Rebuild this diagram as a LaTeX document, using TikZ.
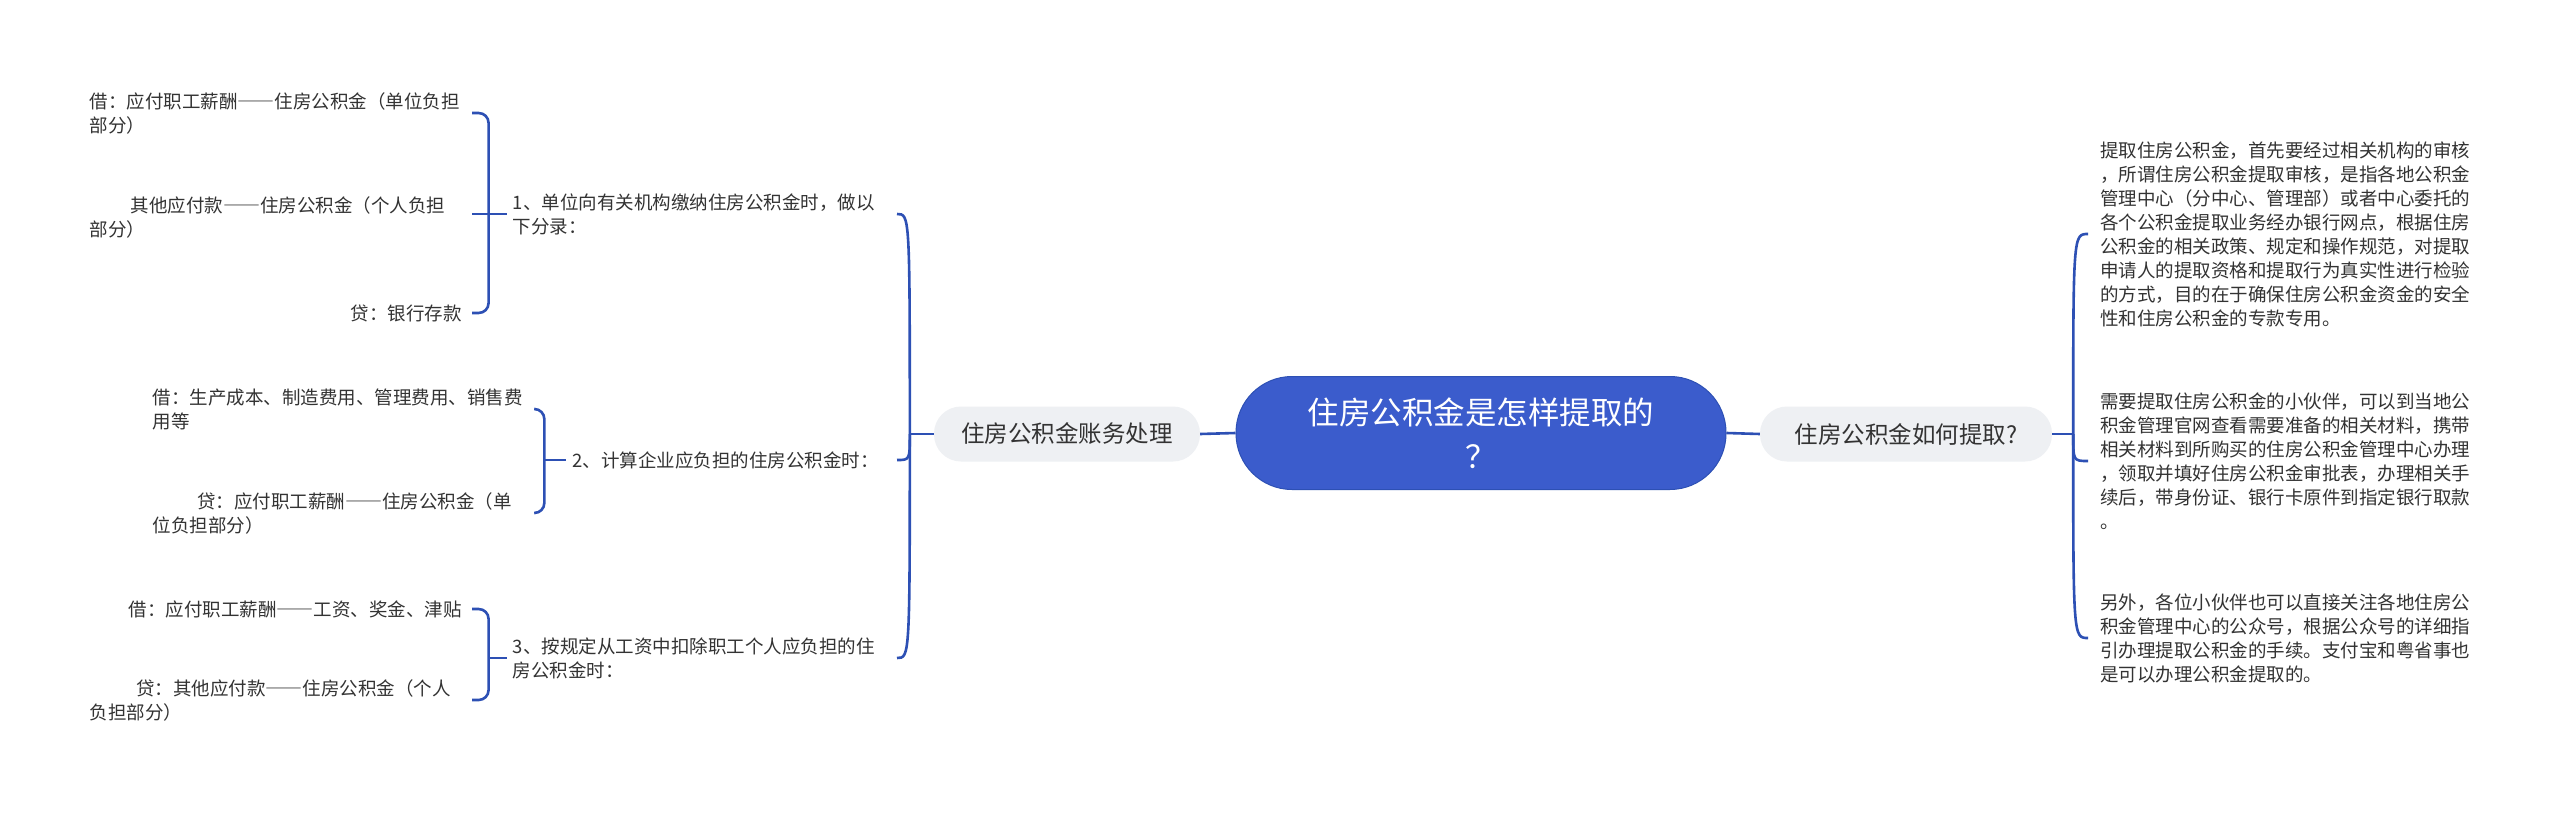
\documentclass[tikz,border=0pt]{standalone}
\usepackage{fontspec}
\setmainfont{Noto Sans CJK SC}
\definecolor{linkblue}{HTML}{2D50B4}
\definecolor{rootblue}{HTML}{3B5CCC}
\definecolor{topicgrey}{HTML}{EEF0F3}
\definecolor{txt}{HTML}{333333}
\newcommand\longdash{{\addfontfeature{RawFeature=+fwid}——}}

\begin{document}
\begin{tikzpicture}[x=1pt, y=1pt,
    link/.style={draw=linkblue, line width=2.6pt},
    root/.style={fill=rootblue, draw=linkblue, line width=1pt, text=white, align=center,
        minimum width=490pt, minimum height=113pt, rounded corners=56pt,
        font=\fontsize{31.5}{44}\selectfont},
    topic/.style={fill=topicgrey, text=txt, minimum height=55pt, rounded corners=27pt,
        font=\fontsize{23.5}{28}\selectfont},
    sub/.style={text=txt, align=left, anchor=east, inner xsep=6pt,
        font=\fontsize{18.5}{24}\selectfont},
    leaf/.style={text=txt, align=left, anchor=east, inner xsep=10pt,
        font=\fontsize{18.5}{24}\selectfont},
    note/.style={text=txt, align=left, anchor=west, inner xsep=12pt, text width=372pt,
        font=\fontsize{18.5}{24}\selectfont}]
    \tikzstyle{every node}+=[inner sep=0pt]
    \fill [white] (0,0) rectangle (2560,-816);
    \useasboundingbox (0,0) rectangle (2560,-816);
    \node [root] (root) at (1481,-433) {住房公积金是怎样提取的\\？};
    \node [topic, minimum width=266pt] (acc) at (1067,-434) {住房公积金账务处理};
    \node [topic, minimum width=292pt] (how) at (1906,-434) {住房公积金如何提取?};
    \draw [link] (root.west) -- (acc.east);
    \draw [link] (root.east) -- (how.west);
    \node [sub, text width=366pt] (i1) at (885,-214) {1、单位向有关机构缴纳住房公积金时，做以\\下分录：};
    \node [sub] (i2) at (885,-460) {2、计算企业应负担的住房公积金时：};
    \node [sub, text width=366pt] (i3) at (885,-658) {3、按规定从工资中扣除职工个人应负担的住\\房公积金时：};
    \coordinate (lhub) at ([xshift=-24pt]acc.west);
    \draw [link] (acc.west) -- (lhub);
    \foreach \n in {i1,i2,i3}
        \draw [link] (lhub) .. controls (lhub |- \n.east) .. ([xshift=12pt]\n.east);
    \node [leaf, text width=372pt] (l1a) at (472,-113) {借：应付职工薪酬\longdash 住房公积金（单位负担\\部分）};
    \node [leaf, text width=372pt] (l1b) at (472,-217) {\hspace*{2.2em}其他应付款\longdash 住房公积金（个人负担\\部分）};
    \node [leaf] (l1c) at (472,-313) {贷：银行存款};
    \coordinate (b1) at ([xshift=-18pt]i1.west);
    \draw [link, rounded corners=10pt] (l1a.east) -| (b1) |- (l1c.east);
    \draw [link] (l1b.east |- b1) -- (i1.west);
    \node [leaf, text width=372pt] (l2a) at (535,-409) {借：生产成本、制造费用、管理费用、销售费\\用等};
    \node [leaf, text width=372pt] (l2b) at (535,-513) {\hspace*{2.4em}贷：应付职工薪酬\longdash 住房公积金（单\\位负担部分）};
    \coordinate (b2) at ([xshift=-22pt]i2.west);
    \draw [link, rounded corners=10pt] (l2a.east) -| (b2) |- (l2b.east);
    \draw [link] (b2) -- (i2.west);
    \node [leaf] (l3a) at (472,-609) {借：应付职工薪酬\longdash 工资、奖金、津贴};
    \node [leaf, text width=372pt] (l3b) at (472,-700) {\hspace*{2.5em}贷：其他应付款\longdash 住房公积金（个人\\负担部分）};
    \coordinate (b3) at ([xshift=-18pt]i3.west);
    \draw [link, rounded corners=10pt] (l3a.east) -| (b3) |- (l3b.east);
    \draw [link] (b3) -- (i3.west);
    \node [note] (r1) at (2088,-234) {提取住房公积金，首先要经过相关机构的审核\\，所谓住房公积金提取审核，是指各地公积金\\管理中心（分中心、管理部）或者中心委托的\\各个公积金提取业务经办银行网点，根据住房\\公积金的相关政策、规定和操作规范，对提取\\申请人的提取资格和提取行为真实性进行检验\\的方式，目的在于确保住房公积金资金的安全\\性和住房公积金的专款专用。};
    \node [note] (r2) at (2088,-461) {需要提取住房公积金的小伙伴，可以到当地公\\积金管理官网查看需要准备的相关材料，携带\\相关材料到所购买的住房公积金管理中心办理\\，领取并填好住房公积金审批表，办理相关手\\续后，带身份证、银行卡原件到指定银行取款\\。};
    \node [note] (r3) at (2088,-638) {另外，各位小伙伴也可以直接关注各地住房公\\积金管理中心的公众号，根据公众号的详细指\\引办理提取公积金的手续。支付宝和粤省事也\\是可以办理公积金提取的。};
    \coordinate (rhub) at ([xshift=21pt]how.east);
    \draw [link] (how.east) -- (rhub);
    \foreach \n in {r1,r2,r3}
        \draw [link] (rhub) .. controls (rhub |- \n.west) .. (\n.west);
\end{tikzpicture}
\end{document}
